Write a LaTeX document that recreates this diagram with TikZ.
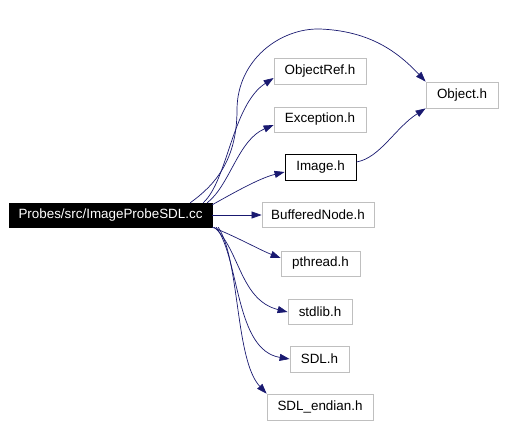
\documentclass[tikz,border=0pt]{standalone}
\usepackage{fontspec}
\setmainfont{Liberation Sans}
\usetikzlibrary{arrows.meta}
\definecolor{edgeblue}{RGB}{25,25,112}
\definecolor{boxgray}{RGB}{191,191,191}
\tikzset{
  hdr/.style={draw=boxgray, line width=0.8pt, fill=white, inner sep=0pt, font=\fontsize{13.4}{15}\selectfont, text=black},
  dep/.style={draw=edgeblue, line width=0.7pt, -{Triangle[length=10pt,width=7pt]}, fill=none},
}
\begin{document}
\begin{tikzpicture}[x=1pt,y=-1pt]
\useasboundingbox (0,0) rectangle (506,426);
\node[draw=black, fill=black, text=white, inner sep=0pt, minimum width=203pt, minimum height=24pt, font=\fontsize{13.4}{15}\selectfont] (main) at (110.5,215) {Probes/src/ImageProbeSDL.cc};
\node[hdr, minimum width=92pt, minimum height=26pt] (oref) at (320,71) {ObjectRef.h};
\node[hdr, minimum width=92pt, minimum height=25pt] (exc) at (320,119.5) {Exception.h};
\node[hdr, draw=black, minimum width=71pt, minimum height=26pt] (img) at (320.5,167) {Image.h};
\node[hdr, minimum width=72pt, minimum height=26pt] (obj) at (462,95) {Object.h};
\node[hdr, minimum width=112pt, minimum height=25pt] (buf) at (318,215) {BufferedNode.h};
\node[hdr, minimum width=79pt, minimum height=25pt] (pth) at (320.5,263.5) {pthread.h};
\node[hdr, minimum width=64pt, minimum height=25pt] (std) at (320,311.5) {stdlib.h};
\node[hdr, minimum width=59pt, minimum height=26pt] (sdl) at (319.5,359) {SDL.h};
\node[hdr, minimum width=106pt, minimum height=26pt] (end) at (320,407) {SDL\_endian.h};

\draw[dep] (main.north east) ++(-22,0) .. controls (215,185) and (237,160) .. (237,110)
  .. controls (237,60) and (280,28) .. (320,29)
  .. controls (370,31) and (398,52) .. (obj.north west);
\draw[dep] (main.north east) ++(-9,0) .. controls (228,180) and (232,105) .. (oref.west |- 0,78);
\draw[dep] (main.north east) ++(-5,0) .. controls (230,185) and (238,140) .. (exc.west |- 0,125);
\draw[dep] (main.north east) ++(0,2) .. controls (235,192) and (260,178) .. (img.west |- 0,172);
\draw[dep] (img.east |- 0,162) .. controls (380,158) and (395,128) .. (obj.south west);
\draw[dep] (main.east) -- (buf.west);
\draw[dep] (main.south east) .. controls (235,236) and (260,250) .. (pth.west |- 0,258);
\draw[dep] (main.south east) ++(2,0) .. controls (240,250) and (240,300) .. (std.west |- 0,312);
\draw[dep] (main.south east) ++(4,0) .. controls (240,260) and (235,350) .. (sdl.west |- 0,359);
\draw[dep] (main.south east) ++(6,0) .. controls (240,260) and (235,360) .. (end.north west);
\end{tikzpicture}
\end{document}
